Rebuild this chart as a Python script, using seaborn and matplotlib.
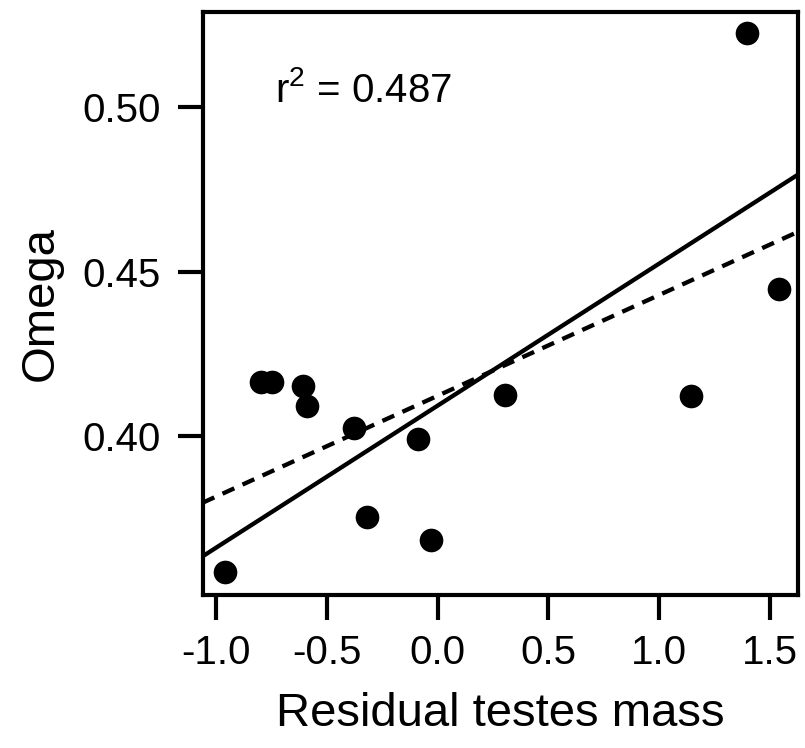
import matplotlib
matplotlib.use("Agg")
import matplotlib.pyplot as plt
import seaborn as sns
import pandas as pd

# Data
residual_testes_mass = [-0.959, -0.798, -0.749, -0.609, -0.588, -0.376, -0.320,
                        -0.090, -0.031, 0.304, 1.142, 1.395, 1.540]
omega = [0.3587, 0.4165, 0.4165, 0.4152, 0.4091, 0.4025, 0.3754,
         0.3990, 0.3683, 0.4125, 0.4122, 0.5226, 0.4447]

# Fitted lines (intercept, slope)
solid_fit = (0.4092, 0.04326)
dashed_fit = (0.4122, 0.0307)

r2_label = "0.487"
x_ticks = [-1.0, -0.5, 0.0, 0.5, 1.0, 1.5]
x_tick_labels = ["-1.0", "-0.5", "0.0", "0.5", "1.0", "1.5"]
y_ticks = [0.40, 0.45, 0.50]
y_tick_labels = ["0.40", "0.45", "0.50"]

df = pd.DataFrame({"x": residual_testes_mass, "y": omega})

sns.set_style("ticks")
plt.rcParams["font.family"] = ["Liberation Sans", "DejaVu Sans"]
plt.rcParams["mathtext.fontset"] = "custom"
plt.rcParams["mathtext.rm"] = "Liberation Sans"
plt.rcParams["mathtext.it"] = "Liberation Sans"
for k in ["text.color", "axes.labelcolor", "xtick.color", "ytick.color",
          "axes.edgecolor", "xtick.labelcolor", "ytick.labelcolor"]:
    plt.rcParams[k] = "black"

fig = plt.figure(figsize=(8.05, 7.48), dpi=100)
ax = fig.add_axes([0.2516, 0.2039, 0.991 - 0.2516, 0.9833 - 0.2039])

sns.scatterplot(data=df, x="x", y="y", ax=ax, color="black", s=290,
                edgecolor="black", linewidth=0, zorder=3)

ax.set_xlim(-1.061, 1.625)
ax.set_ylim(0.3514, 0.5289)

ax.axline((0, solid_fit[0]), slope=solid_fit[1], color="black", lw=3.1,
          solid_capstyle="butt", zorder=2)
ax.axline((0, dashed_fit[0]), slope=dashed_fit[1], color="black", lw=3.1,
          linestyle=(0, (3.0, 2.1)), dash_capstyle="butt", zorder=2)

ax.text(-0.734, 0.5017, "r$^{2}$ = " + r2_label, fontsize=29, color="black",
        ha="left", va="baseline")

ax.set_xticks(x_ticks)
ax.set_xticklabels(x_tick_labels)
ax.set_yticks(y_ticks)
ax.set_yticklabels(y_tick_labels)
ax.tick_params(axis="both", direction="out", length=18, width=3.0,
               labelsize=29, color="black", labelcolor="black")
ax.tick_params(axis="x", pad=10)
ax.tick_params(axis="y", pad=12)

for sp in ax.spines.values():
    sp.set_visible(True)
    sp.set_linewidth(3.0)
    sp.set_color("black")

ax.set_xlabel("Residual testes mass", fontsize=34, labelpad=14, color="black")
ax.set_ylabel("Omega", fontsize=34, labelpad=14, color="black")

fig.savefig("out.png", dpi=100, facecolor="white")
